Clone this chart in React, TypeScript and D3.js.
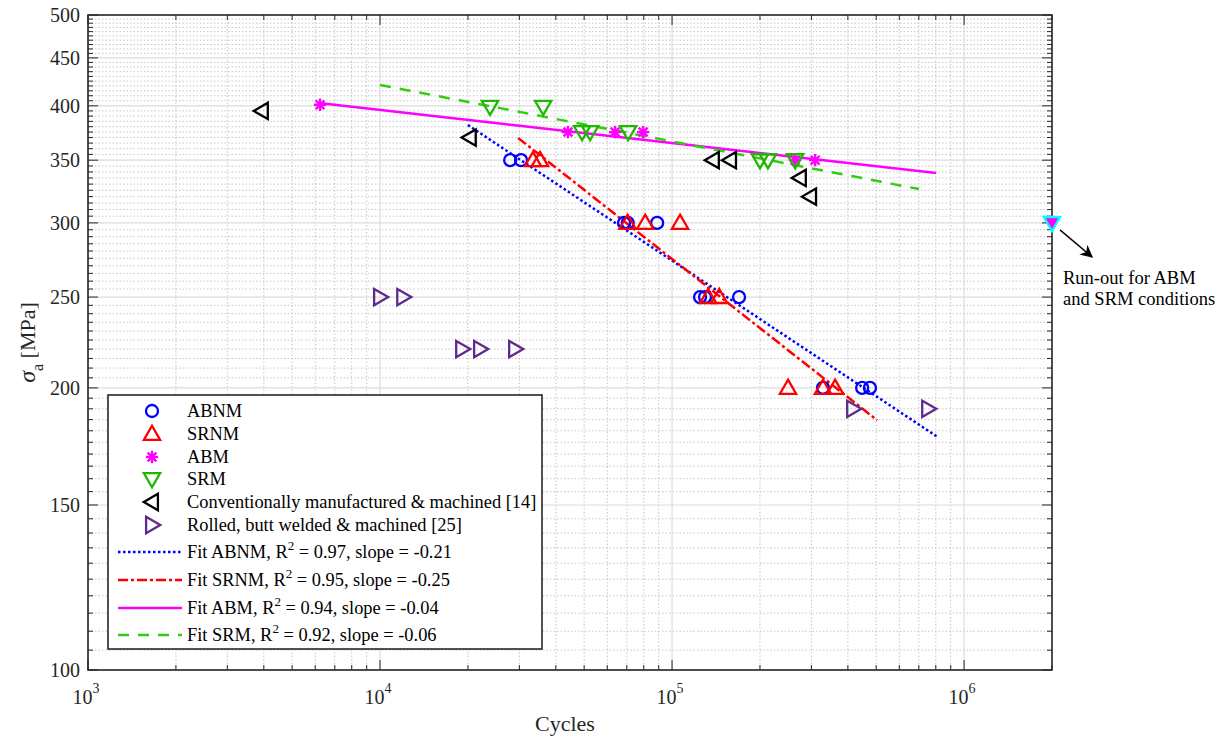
import React from "react";
import * as d3 from "d3";

// ---- data (cycles, stress amplitude in MPa) ----
const abnm: [number, number][] = [
  [27900, 350], [30400, 350], [68500, 300], [70500, 300], [88900, 300],
  [124700, 250], [129700, 250], [169600, 250], [328700, 200], [447700, 200], [476000, 200],
];
const srnm: [number, number][] = [
  [33400, 350], [35300, 350], [70400, 300], [80900, 300], [106500, 300],
  [132900, 250], [145000, 250], [249500, 200], [328700, 200], [361600, 200],
];
const abm: [number, number][] = [
  [6230, 401], [44000, 375], [63800, 375], [79600, 375], [263700, 350], [309000, 350],
];
const srm: [number, number][] = [
  [23800, 399], [36200, 399], [49200, 375], [52400, 375], [70700, 375],
  [200000, 350], [213000, 350], [264000, 350],
];
const conventional: [number, number][] = [
  [3940, 395], [20300, 370], [138000, 350], [158000, 350], [274000, 335], [297000, 320],
];
const rolled: [number, number][] = [
  [10000, 250], [12000, 250], [19100, 220], [22000, 220], [29000, 220], [416800, 190], [753000, 190],
];
const runOut: [number, number] = [2e6, 300];

// fits: sigma = A * N^b over [n0, n1]
const fits = [
  { key: "ABNM", A: 2964, b: -0.207, n0: 20000, n1: 815000, r2: "0.97", slope: "-0.21" },
  { key: "SRNM", A: 4609, b: -0.245, n0: 29700, n1: 503800, r2: "0.95", slope: "-0.25" },
  { key: "ABM", A: 548, b: -0.0353, n0: 6180, n1: 801800, r2: "0.94", slope: "-0.04" },
  { key: "SRM", A: 733, b: -0.0602, n0: 10000, n1: 701000, r2: "0.92", slope: "-0.06" },
];

const yTicks = [100, 150, 200, 250, 300, 350, 400, 450, 500];
const xDecades = [1e3, 1e4, 1e5, 1e6];

const W = 1227;
const H = 740;
const M = { left: 88, top: 15, right: 1052, bottom: 670 };
const FONT = "'Liberation Serif', 'Times New Roman', serif";

const C = {
  blue: "#0000ff",
  red: "#ff0000",
  magenta: "#ff00ff",
  green: "#1fb800",
  greenLine: "#33cc11",
  black: "#000000",
  purple: "#5e2a8c",
  cyan: "#00ffff",
};

type Shape = "circle" | "up" | "star" | "down" | "left" | "right";

function Marker({ shape, cx, cy, color, fill = "none" }: { shape: Shape; cx: number; cy: number; color: string; fill?: string }) {
  const sw = 2.3;
  if (shape === "circle") {
    return <circle cx={cx} cy={cy} r={6} fill="none" stroke={color} strokeWidth={sw} />;
  }
  if (shape === "star") {
    const r = 6.2;
    const lines = d3.range(4).map((i) => {
      const a = (i * Math.PI) / 4;
      return (
        <line
          key={i}
          x1={cx - r * Math.cos(a)}
          y1={cy - r * Math.sin(a)}
          x2={cx + r * Math.cos(a)}
          y2={cy + r * Math.sin(a)}
          stroke={color}
          strokeWidth={2.4}
        />
      );
    });
    return <g>{lines}</g>;
  }
  const rot = { up: 0, down: 180, left: -90, right: 90 }[shape];
  const tri = d3.symbol(d3.symbolTriangle, 115)() as string;
  return (
    <path
      d={tri}
      transform={`translate(${cx},${cy}) rotate(${rot}) translate(0,1.2)`}
      fill={fill}
      stroke={color}
      strokeWidth={sw}
    />
  );
}

const lineStyle: Record<string, { color: string; dash?: string; width: number }> = {
  ABNM: { color: C.blue, dash: "2.5,2.5", width: 2.5 },
  SRNM: { color: C.red, dash: "10,3,3,3", width: 2.5 },
  ABM: { color: C.magenta, width: 2.5 },
  SRM: { color: C.greenLine, dash: "11,9", width: 2.5 },
};

export default function App() {
  const x = d3.scaleLog().domain([1e3, 2e6]).range([M.left, M.right]);
  const y = d3.scaleLog().domain([100, 500]).range([M.bottom, M.top]);

  const xMinor: number[] = [];
  for (const d of xDecades) for (let k = 2; k <= 9; k++) if (d * k <= 2e6) xMinor.push(d * k);
  const yMinor = d3.range(105, 500, 5).filter((v) => !yTicks.includes(v));

  const series: { key: string; data: [number, number][]; shape: Shape; color: string; label: string }[] = [
    { key: "ABNM", data: abnm, shape: "circle", color: C.blue, label: "ABNM" },
    { key: "SRNM", data: srnm, shape: "up", color: C.red, label: "SRNM" },
    { key: "ABM", data: abm, shape: "star", color: C.magenta, label: "ABM" },
    { key: "SRM", data: srm, shape: "down", color: C.green, label: "SRM" },
    { key: "CONV", data: conventional, shape: "left", color: C.black, label: "Conventionally manufactured & machined [14]" },
    { key: "ROLL", data: rolled, shape: "right", color: C.purple, label: "Rolled, butt welded & machined [25]" },
  ];

  const fitLine = (f: (typeof fits)[number]) => {
    const pts = d3.range(0, 41).map((i) => {
      const n = Math.pow(10, Math.log10(f.n0) + (i / 40) * (Math.log10(f.n1) - Math.log10(f.n0)));
      return [n, f.A * Math.pow(n, f.b)] as [number, number];
    });
    return d3.line<[number, number]>().x((d) => x(d[0])).y((d) => y(d[1]))(pts) as string;
  };

  const axisColor = "#262626";
  const lg = { x0: 108, y0: 395, x1: 542, y1: 649 };
  const rowY = [411, 434, 457, 479, 502, 525, 552, 580, 608, 635];

  const [rx, ry] = [x(runOut[0]), y(runOut[1])];

  return (
    <svg width={W} height={H} style={{ position: "absolute", left: 0, top: 0, background: "#fff" }} fontFamily={FONT}>
      <rect x={0} y={0} width={W} height={H} fill="#fff" />
      {/* grid */}
      <g>
        {xMinor.map((v) => (
          <line key={"xm" + v} x1={x(v)} x2={x(v)} y1={M.top} y2={M.bottom} stroke="#b8b8b8" strokeWidth={0.8} strokeDasharray="1.5,2" />
        ))}
        {yMinor.map((v) => (
          <line key={"ym" + v} x1={M.left} x2={M.right} y1={y(v)} y2={y(v)} stroke="#b8b8b8" strokeWidth={0.8} strokeDasharray="1.5,2" />
        ))}
        {xDecades.map((v) => (
          <line key={"xM" + v} x1={x(v)} x2={x(v)} y1={M.top} y2={M.bottom} stroke="#dcdcdc" strokeWidth={1.2} />
        ))}
        {yTicks.map((v) => (
          <line key={"yM" + v} x1={M.left} x2={M.right} y1={y(v)} y2={y(v)} stroke="#dcdcdc" strokeWidth={1.2} />
        ))}
      </g>

      {/* fit lines */}
      {fits.map((f) => {
        const st = lineStyle[f.key];
        return <path key={f.key} d={fitLine(f)} fill="none" stroke={st.color} strokeWidth={st.width} strokeDasharray={st.dash} />;
      })}

      {/* markers */}
      {series.map((s) => (
        <g key={s.key}>
          {s.data.map((d, i) => (
            <Marker key={i} shape={s.shape} cx={x(d[0])} cy={y(d[1])} color={s.color} />
          ))}
        </g>
      ))}

      {/* ticks */}
      <g stroke={axisColor} strokeWidth={1}>
        {xDecades.map((v) => (
          <g key={"tx" + v}>
            <line x1={x(v)} x2={x(v)} y1={M.bottom} y2={M.bottom - 10} />
            <line x1={x(v)} x2={x(v)} y1={M.top} y2={M.top + 10} />
          </g>
        ))}
        {xMinor.map((v) => (
          <g key={"txm" + v}>
            <line x1={x(v)} x2={x(v)} y1={M.bottom} y2={M.bottom - 5} />
            <line x1={x(v)} x2={x(v)} y1={M.top} y2={M.top + 5} />
          </g>
        ))}
        {yTicks.map((v) => (
          <g key={"ty" + v}>
            <line x1={M.left} x2={M.left + 10} y1={y(v)} y2={y(v)} />
            <line x1={M.right} x2={M.right - 10} y1={y(v)} y2={y(v)} />
          </g>
        ))}
        {yMinor.map((v) => (
          <g key={"tym" + v}>
            <line x1={M.left} x2={M.left + 5} y1={y(v)} y2={y(v)} />
            <line x1={M.right} x2={M.right - 5} y1={y(v)} y2={y(v)} />
          </g>
        ))}
      </g>

      {/* axes box */}
      <rect x={M.left} y={M.top} width={M.right - M.left} height={M.bottom - M.top} fill="none" stroke={axisColor} strokeWidth={1.6} />

      {/* tick labels */}
      <g fill="#262626" fontSize={20}>
        {yTicks.map((v) => (
          <text key={"ly" + v} x={M.left - 8} y={y(v)} dy="0.35em" textAnchor="end">
            {v}
          </text>
        ))}
        {xDecades.map((v) => (
          <text key={"lx" + v} x={x(v) - 2} y={704} textAnchor="middle">
            10
            <tspan fontSize={14} dy={-11}>
              {Math.round(Math.log10(v))}
            </tspan>
          </text>
        ))}
      </g>

      {/* axis labels */}
      <text x={565} y={731} textAnchor="middle" fontSize={22} fill="#262626">
        Cycles
      </text>
      <text transform={`translate(35,${(M.top + M.bottom) / 2}) rotate(-90)`} textAnchor="middle" fontSize={22} fill="#262626">
        <tspan fontStyle="italic" fontSize={24}>σ</tspan>
        <tspan fontSize={16} dy={8}>a</tspan>
        <tspan dy={-8}> [MPa]</tspan>
      </text>

      {/* run-out */}
      <Marker shape="down" cx={rx} cy={ry} color={C.cyan} fill={C.magenta} />
      <defs>
        <marker id="arr" viewBox="0 0 10 10" refX="9" refY="5" markerWidth="9" markerHeight="9" orient="auto">
          <path d="M0,0 L10,5 L0,10 L3,5 z" fill="#000" />
        </marker>
      </defs>
      <line x1={rx + 8} y1={ry + 7} x2={rx + 40} y2={ry + 34} stroke="#000" strokeWidth={1.4} markerEnd="url(#arr)" />
      <text x={rx + 11} y={ry + 61} fontSize={18.5} fill="#000">
        Run-out for ABM
      </text>
      <text x={rx + 11} y={ry + 82} fontSize={18.5} fill="#000">
        and SRM conditions
      </text>

      {/* legend */}
      <rect x={lg.x0} y={lg.y0} width={lg.x1 - lg.x0} height={lg.y1 - lg.y0} fill="#fff" stroke={axisColor} strokeWidth={1.6} />
      {series.map((s, i) => (
        <g key={"lg" + s.key}>
          <Marker shape={s.shape} cx={152} cy={rowY[i]} color={s.color} />
          <text x={187} y={rowY[i]} dy="0.35em" fontSize={18.4} fill="#000">
            {s.label}
          </text>
        </g>
      ))}
      {fits.map((f, i) => {
        const st = lineStyle[f.key];
        const yy = rowY[6 + i];
        return (
          <g key={"lf" + f.key}>
            <line x1={118} x2={182} y1={yy} y2={yy} stroke={st.color} strokeWidth={st.width} strokeDasharray={st.dash} />
            <text x={187} y={yy} dy="0.35em" fontSize={18.4} fill="#000">
              Fit {f.key}, R<tspan fontSize={13} dy={-8}>2</tspan>
              <tspan dy={8}> = {f.r2}, slope = {f.slope}</tspan>
            </text>
          </g>
        );
      })}
    </svg>
  );
}
